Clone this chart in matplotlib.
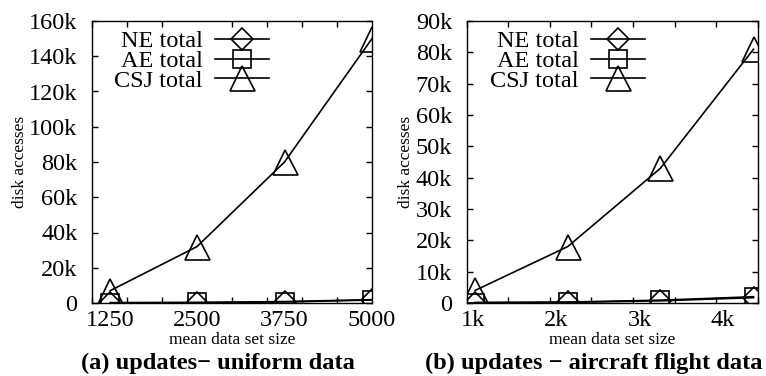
import numpy as np
import matplotlib
matplotlib.use("Agg")
import matplotlib.pyplot as plt
from matplotlib.ticker import MultipleLocator, FixedLocator, NullFormatter

plt.rcParams['font.family'] = ['Liberation Serif', 'DejaVu Serif']

# -------------------------------------------------
# Datos
# -------------------------------------------------

# (a) uniform data
x_a = [1260, 2500, 3750, 5000]
xlab_a_pos = [1260, 2500, 3750, 5000]
xlab_a = ['1250', '2500', '3750', '5000']
ne_a = [100, 200, 600, 1700]
ae_a = [200, 300, 800, 1900]
csj_a = [7000, 32000, 80000, 150000]
yticks_a = [0, 20000, 40000, 60000, 80000, 100000, 120000, 140000, 160000]
ylab_a = ['0', '20k', '40k', '60k', '80k', '100k', '120k', '140k', '160k']

# (b) aircraft flight data
x_b = [1100, 2215, 3330, 4450]
xlab_b_pos = [1075, 2075, 3080, 4075]
xlab_b = ['1k', '2k', '3k', '4k']
ne_b = [100, 200, 700, 1700]
ae_b = [150, 300, 900, 2000]
csj_b = [4000, 18000, 43000, 81000]
yticks_b = [0, 10000, 20000, 30000, 40000, 50000, 60000, 70000, 80000, 90000]
ylab_b = ['0', '10k', '20k', '30k', '40k', '50k', '60k', '70k', '80k', '90k']

captions = ['(a) updates\u2212 uniform data', '(b) updates \u2212 aircraft flight data']

# -------------------------------------------------
# Figura
# -------------------------------------------------

fig = plt.figure(figsize=(7.66, 3.76), dpi=100)
ax_a = fig.add_axes([92/766, 73/376, 280/766, 282/376])
ax_b = fig.add_axes([466.7/766, 73/376, 291/766, 282/376])

panels = [
    (ax_a, x_a, ne_a, ae_a, csj_a, (1000, 5000), xlab_a_pos, xlab_a, (0, 160000), yticks_a, ylab_a, 288/766),
    (ax_b, x_b, ne_b, ae_b, csj_b, (1000, 4500), xlab_b_pos, xlab_b, (0, 90000), yticks_b, ylab_b, 664/766),
]

for ax, x, ne, ae, csj, xl, xp, xlb, yl, yt, ylb, lg_x in panels:
    ax.plot(x, ne, '-k', lw=1.2, marker='D', ms=11, mfc='none', mec='k', mew=1.2, label='NE total')
    ax.plot(x, ae, '-k', lw=1.2, marker='s', ms=13, mfc='none', mec='k', mew=1.2, label='AE total')
    ax.plot(x, csj, '-k', lw=1.2, marker='^', ms=18, mfc='none', mec='k', mew=1.2, label='CSJ total')

    ax.set_xlim(*xl)
    ax.set_ylim(*yl)
    ax.xaxis.set_major_locator(FixedLocator(xp))
    ax.set_xticklabels(xlb)
    ax.xaxis.set_minor_locator(MultipleLocator(500))
    ax.xaxis.set_minor_formatter(NullFormatter())
    ax.set_yticks(yt)
    ax.set_yticklabels(ylb)

    ax.tick_params(axis='both', which='both', direction='in', top=True, right=True,
                   length=4, width=1, labelsize=17.5)
    ax.tick_params(axis='x', which='major', length=0, pad=5)
    ax.tick_params(axis='y', which='major', pad=10.5)
    for s in ax.spines.values():
        s.set_linewidth(1)

    ax.set_xlabel('mean data set size', fontsize=12.5, labelpad=1)
    ax.set_ylabel('disk accesses', fontsize=12.5, labelpad=1)

    ax.legend(loc='upper right', bbox_to_anchor=(lg_x, 1 - 11/376), bbox_transform=fig.transFigure,
              frameon=False, markerfirst=False, fontsize=17.5, handlelength=2.2,
              labelspacing=-0.1, handletextpad=0.5, borderpad=0.3)

fig.text(218/766, 1 - 363/376, captions[0], ha='center', va='center', fontsize=17.6, fontweight='bold')
fig.text(594/766, 1 - 363/376, captions[1], ha='center', va='center', fontsize=17.6, fontweight='bold')

fig.savefig('out.png', dpi=100)
